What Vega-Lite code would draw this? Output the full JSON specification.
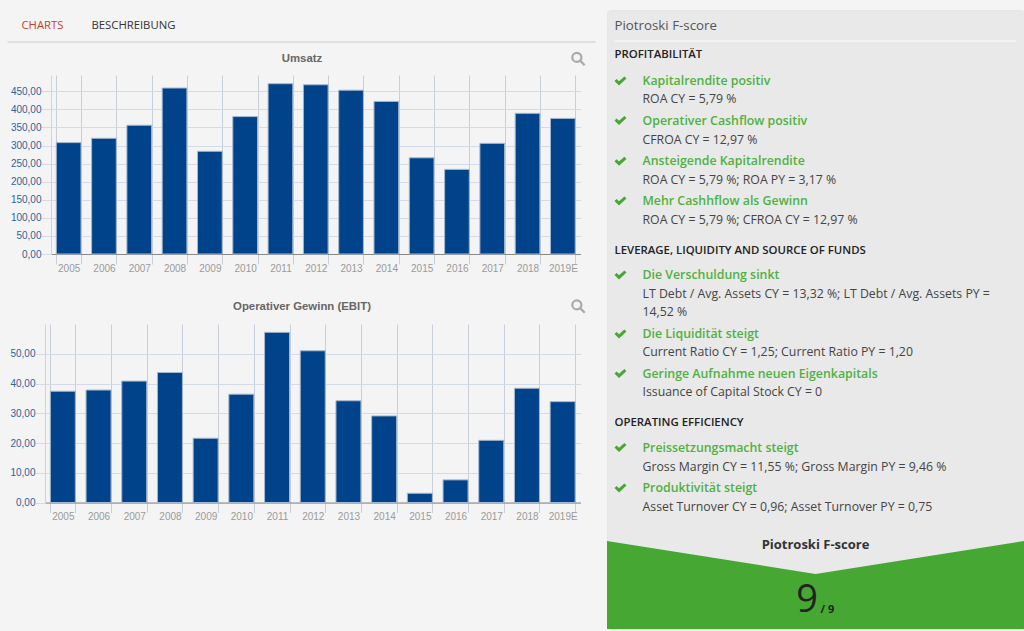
{"$schema":"https://vega.github.io/schema/vega-lite/v6.json","background":"#f4f4f4","padding":{"left":6,"top":9,"right":3,"bottom":3},"spacing":0,"config":{"view":{"stroke":null},"text":{"font":"Open Sans"}},"hconcat":[{"bounds":"flush","spacing":0,"vconcat":[{"width":561,"height":65,"data":{"values":[{"art":"tab1","text":"CHARTS","spalte":2,"zeile":1},{"art":"tab2","text":"BESCHREIBUNG","spalte":3,"zeile":1},{"art":"linie","spalte":1,"bis":6,"zeile":2},{"art":"titel","text":"Umsatz","spalte":4,"zeile":3},{"art":"lupe","spalte":5,"zeile":3}]},"encoding":{"x":{"field":"spalte","type":"quantitative","axis":null,"scale":{"domain":[1,2,3,4,5,6],"range":[-37.5,-23.5,46.5,257,533.5,550.5],"zero":false,"nice":false}},"y":{"field":"zeile","type":"quantitative","axis":null,"scale":{"domain":[1,2,3],"range":[16,32,49],"zero":false,"nice":false}}},"layer":[{"transform":[{"filter":"datum.art=='linie'"}],"mark":{"type":"rule","color":"#dfdfdf","strokeWidth":2},"encoding":{"x2":{"field":"bis"}}},{"transform":[{"filter":"datum.art=='tab1'"}],"mark":{"type":"text","align":"left","font":"Open Sans","fontSize":11.3,"color":"#c8402f"},"encoding":{"text":{"field":"text"}}},{"transform":[{"filter":"datum.art=='tab2'"}],"mark":{"type":"text","align":"left","font":"Open Sans","fontSize":11.3,"color":"#333333"},"encoding":{"text":{"field":"text"}}},{"transform":[{"filter":"datum.art=='titel'"}],"mark":{"type":"text","align":"center","font":"Liberation Sans","fontWeight":"bold","fontSize":11.4,"color":"#666666"},"encoding":{"text":{"field":"text"}}},{"transform":[{"filter":"datum.art=='lupe'"}],"mark":{"type":"point","shape":"M-0.95,-0.25 A0.7,0.7 0 1 1 0.45,-0.25 A0.7,0.7 0 1 1 -0.95,-0.25 M0.25,0.25 L0.95,0.95","size":169,"filled":false,"stroke":"#aaaaaa","strokeWidth":2.2,"opacity":1}}]},{"width":535.5,"height":179,"data":{"values":[{"jahr":"2005","wert":308},{"jahr":"2006","wert":320},{"jahr":"2007","wert":356},{"jahr":"2008","wert":459},{"jahr":"2009","wert":284},{"jahr":"2010","wert":380},{"jahr":"2011","wert":471},{"jahr":"2012","wert":468},{"jahr":"2013","wert":453},{"jahr":"2014","wert":422},{"jahr":"2015","wert":266},{"jahr":"2016","wert":234},{"jahr":"2017","wert":306},{"jahr":"2018","wert":389},{"jahr":"2019E","wert":375}]},"mark":{"type":"bar","fill":"#00438a","stroke":"#a4b8cf","strokeWidth":1},"encoding":{"x":{"field":"jahr","type":"nominal","sort":null,"scale":{"range":[6,535.5],"paddingInner":0.3,"paddingOuter":0.15},"axis":{"title":null,"labelAngle":0,"tickBand":"extent","tickExtra":false,"tickSize":10,"tickColor":"#c9cfd8","grid":true,"gridColor":"#c9cfd8","domainColor":"#888888","labelColor":"#9a9a9a","labelFont":"Liberation Sans","labelFontSize":10,"labelPadding":-1}},"y":{"field":"wert","type":"quantitative","scale":{"domain":[0,495],"nice":false},"axis":{"title":null,"offset":-6,"values":[0,50,100,150,200,250,300,350,400,450],"labelExpr":"replace(format(datum.value,'.2f'),'.',',')","tickSize":10,"tickColor":"#d3dbe6","gridColor":"#d3dbe6","domainColor":"#ccd3dd","labelColor":"#2f6299","labelFont":"Liberation Sans","labelFontSize":10,"labelPadding":0}}}},{"width":535.5,"height":69.5,"data":{"values":[{"art":"titel","text":"Operativer Gewinn (EBIT)","spalte":1,"zeile":1},{"art":"lupe","spalte":2,"zeile":1}]},"encoding":{"x":{"field":"spalte","type":"quantitative","axis":null,"scale":{"domain":[1,2],"range":[257,533.5],"zero":false,"nice":false}},"y":{"field":"zeile","type":"quantitative","axis":null,"scale":{"domain":[0,1],"range":[0,52.5],"zero":false,"nice":false}}},"layer":[{"transform":[{"filter":"datum.art=='titel'"}],"mark":{"type":"text","align":"center","font":"Liberation Sans","fontWeight":"bold","fontSize":11.4,"color":"#666666"},"encoding":{"text":{"field":"text"}}},{"transform":[{"filter":"datum.art=='lupe'"}],"mark":{"type":"point","shape":"M-0.95,-0.25 A0.7,0.7 0 1 1 0.45,-0.25 A0.7,0.7 0 1 1 -0.95,-0.25 M0.25,0.25 L0.95,0.95","size":169,"filled":false,"stroke":"#aaaaaa","strokeWidth":2.2,"opacity":1}}]},{"width":535.5,"height":178.5,"data":{"values":[{"jahr":"2005","wert":37.4},{"jahr":"2006","wert":37.8},{"jahr":"2007","wert":40.8},{"jahr":"2008","wert":43.7},{"jahr":"2009","wert":21.6},{"jahr":"2010","wert":36.4},{"jahr":"2011","wert":57.2},{"jahr":"2012","wert":51},{"jahr":"2013","wert":34.2},{"jahr":"2014","wert":29.1},{"jahr":"2015","wert":3.1},{"jahr":"2016","wert":7.6},{"jahr":"2017","wert":20.9},{"jahr":"2018","wert":38.4},{"jahr":"2019E","wert":33.9}]},"mark":{"type":"bar","fill":"#00438a","stroke":"#a4b8cf","strokeWidth":1},"encoding":{"x":{"field":"jahr","type":"nominal","sort":null,"scale":{"paddingInner":0.3,"paddingOuter":0.15},"axis":{"title":null,"labelAngle":0,"tickBand":"extent","tickExtra":false,"tickSize":10,"tickColor":"#c9cfd8","grid":true,"gridColor":"#c9cfd8","domainColor":"#888888","labelColor":"#9a9a9a","labelFont":"Liberation Sans","labelFontSize":10,"labelPadding":-1}},"y":{"field":"wert","type":"quantitative","scale":{"domain":[0,60],"nice":false},"axis":{"title":null,"values":[0,10,20,30,40,50],"labelExpr":"replace(format(datum.value,'.2f'),'.',',')","tickSize":10,"tickColor":"#d3dbe6","gridColor":"#d3dbe6","domainColor":"#ccd3dd","labelColor":"#2f6299","labelFont":"Liberation Sans","labelFontSize":10,"labelPadding":0}}}}]},{"width":417,"height":619,"view":{"fill":"#e9e9e9","cornerRadius":4,"stroke":"#e6e6e6"},"data":{"values":[{"art":"kopf","text":"Piotroski F-score","spalte":2,"zeile":1},{"art":"sektion","text":"PROFITABILITÄT","spalte":2,"zeile":3},{"art":"titel","text":"Kapitalrendite positiv","spalte":4,"zeile":4},{"art":"detail","text":"ROA CY = 5,79 %","spalte":4,"zeile":5},{"art":"titel","text":"Operativer Cashflow positiv","spalte":4,"zeile":6},{"art":"detail","text":"CFROA CY = 12,97 %","spalte":4,"zeile":7},{"art":"titel","text":"Ansteigende Kapitalrendite","spalte":4,"zeile":8},{"art":"detail","text":"ROA CY = 5,79 %; ROA PY = 3,17 %","spalte":4,"zeile":9},{"art":"titel","text":"Mehr Cashhflow als Gewinn","spalte":4,"zeile":10},{"art":"detail","text":"ROA CY = 5,79 %; CFROA CY = 12,97 %","spalte":4,"zeile":11},{"art":"sektion","text":"LEVERAGE, LIQUIDITY AND SOURCE OF FUNDS","spalte":2,"zeile":12},{"art":"titel","text":"Die Verschuldung sinkt","spalte":4,"zeile":13},{"art":"detail","text":"LT Debt / Avg. Assets CY = 13,32 %; LT Debt / Avg. Assets PY =","spalte":4,"zeile":14},{"art":"detail","text":"14,52 %","spalte":4,"zeile":15},{"art":"titel","text":"Die Liquidität steigt","spalte":4,"zeile":16},{"art":"detail","text":"Current Ratio CY = 1,25; Current Ratio PY = 1,20","spalte":4,"zeile":17},{"art":"titel","text":"Geringe Aufnahme neuen Eigenkapitals","spalte":4,"zeile":18},{"art":"detail","text":"Issuance of Capital Stock CY = 0","spalte":4,"zeile":19},{"art":"sektion","text":"OPERATING EFFICIENCY","spalte":2,"zeile":20},{"art":"titel","text":"Preissetzungsmacht steigt","spalte":4,"zeile":21},{"art":"detail","text":"Gross Margin CY = 11,55 %; Gross Margin PY = 9,46 %","spalte":4,"zeile":22},{"art":"titel","text":"Produktivität steigt","spalte":4,"zeile":23},{"art":"detail","text":"Asset Turnover CY = 0,96; Asset Turnover PY = 0,75","spalte":4,"zeile":24},{"art":"fuss","text":"Piotroski F-score","spalte":5,"zeile":26},{"art":"score","text":"9","spalte":6,"zeile":28},{"art":"max","text":"/ 9","spalte":7,"zeile":28}]},"encoding":{"x":{"field":"spalte","type":"quantitative","axis":null,"scale":{"domain":[1,2,3,4,5,6,7,8,9],"range":[0,7.5,13.5,35.5,208.5,211,213.5,409.5,417],"zero":false,"nice":false}},"y":{"field":"zeile","type":"quantitative","axis":null,"scale":{"domain":[1,2,3,4,5,6,7,8,9,10,11,12,13,14,15,16,17,18,19,20,21,22,23,24,25,26,27,28,29],"range":[15.5,31,45.3,71,89.3,110.5,129.5,151.3,169.5,191,210.3,240.5,265,283.5,302,324,342,363.5,382,413,437.5,456.5,478,496.5,531,534.7,564,591,619],"zero":false,"nice":false}}},"layer":[{"data":{"values":[{"spalte":1,"zeile":25,"unten":29},{"spalte":5,"zeile":27,"unten":29},{"spalte":9,"zeile":25,"unten":29}]},"mark":{"type":"area","color":"#46a832","opacity":1,"interpolate":"linear"},"encoding":{"y2":{"field":"unten"}}},{"data":{"values":[{"spalte":2,"bis":8,"zeile":2}]},"mark":{"type":"rule","color":"#f4f4f4","strokeWidth":1.5},"encoding":{"x2":{"field":"bis"}}},{"transform":[{"filter":"datum.art=='kopf'"}],"mark":{"type":"text","align":"left","font":"Open Sans","fontSize":13.3,"color":"#555555"},"encoding":{"text":{"field":"text"}}},{"transform":[{"filter":"datum.art=='sektion'"}],"mark":{"type":"text","align":"left","font":"Open Sans","fontSize":11.4,"fontWeight":600,"color":"#222222"},"encoding":{"text":{"field":"text"}}},{"transform":[{"filter":"datum.art=='titel'"}],"mark":{"type":"text","align":"left","font":"Open Sans","fontSize":12.35,"fontWeight":600,"color":"#4fb13f"},"encoding":{"text":{"field":"text"}}},{"transform":[{"filter":"datum.art=='titel'"}],"mark":{"type":"point","shape":"M-1,0 L-0.65,-0.35 L-0.25,0.05 L0.65,-0.75 L1,-0.4 L-0.25,0.75 Z","size":144,"filled":true,"color":"#46a832","opacity":1},"encoding":{"x":{"datum":3}}},{"transform":[{"filter":"datum.art=='detail'"}],"mark":{"type":"text","align":"left","font":"Open Sans","fontSize":12.3,"color":"#444444"},"encoding":{"text":{"field":"text"}}},{"transform":[{"filter":"datum.art=='fuss'"}],"mark":{"type":"text","align":"center","font":"Open Sans","fontSize":13,"fontWeight":700,"color":"#333333"},"encoding":{"text":{"field":"text"}}},{"transform":[{"filter":"datum.art=='score'"}],"mark":{"type":"text","align":"right","font":"Open Sans","fontSize":38,"color":"#222222"},"encoding":{"text":{"field":"text"}}},{"transform":[{"filter":"datum.art=='max'"}],"mark":{"type":"text","align":"left","font":"Open Sans","fontSize":11,"fontWeight":700,"color":"#222222","dy":9},"encoding":{"text":{"field":"text"}}}]}]}
